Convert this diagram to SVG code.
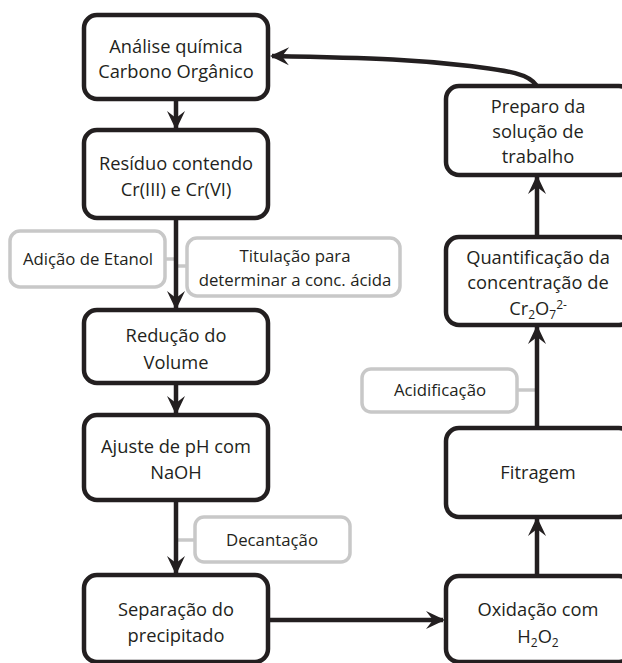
<svg xmlns="http://www.w3.org/2000/svg" width="622" height="663" viewBox="0 0 622 663">
<style>
.box{fill:#fff;stroke:#231f20;stroke-width:4.5}
.gbox{fill:#fff;stroke:#c8c8c8;stroke-width:3.5}
.gl{stroke:#c8c8c8;stroke-width:3.5;fill:none}
.t{font-family:"Open Sans","Liberation Sans",sans-serif;font-size:18.3px;fill:#231f20;text-anchor:middle}
.g{font-family:"Open Sans","Liberation Sans",sans-serif;font-size:16.8px;fill:#231f20;text-anchor:middle}
.c{stroke:#231f20;stroke-width:4.5;fill:none;marker-end:url(#ah)}
.s{font-size:12px}
</style>
<defs>
<marker id="ah" markerUnits="userSpaceOnUse" viewBox="-20 -10 22 20" refX="-2" refY="0" markerWidth="22" markerHeight="20" orient="auto">
<path d="M0,0 L-19,-9 L-12,0 L-19,9 Z" fill="#231f20"/>
</marker>
</defs>
<g id="connectors">
<line class="gl" x1="165" y1="259" x2="176" y2="259"/>
<line class="gl" x1="176" y1="266" x2="187" y2="266"/>
<line class="gl" x1="176" y1="540" x2="195" y2="540"/>
<line class="gl" x1="517" y1="390" x2="537" y2="390"/>
<line class="c" x1="176" y1="99" x2="176" y2="128"/>
<line class="c" x1="176" y1="218" x2="176" y2="308"/>
<line class="c" x1="176" y1="383" x2="176" y2="413"/>
<line class="c" x1="176" y1="500" x2="176" y2="573"/>
<line class="c" x1="268" y1="620" x2="443" y2="620"/>
<line class="c" x1="537" y1="575" x2="537" y2="519"/>
<line class="c" x1="537" y1="428" x2="537" y2="327"/>
<line class="c" x1="537" y1="237" x2="537" y2="177"/>
<path class="c" d="M537,86 C528,72 500,70 470,66 C420,60 380,58 272,56"/>
</g>
<g id="n1"><rect class="box" x="84" y="15" width="184" height="84" rx="13"/>
<text class="t" x="176" y="53">Análise química</text><text class="t" x="176" y="78">Carbono Orgânico</text></g>
<g id="n2"><rect class="box" x="84" y="130" width="184" height="88" rx="13"/>
<text class="t" x="176" y="170">Resíduo contendo</text><text class="t" x="176" y="196">Cr(III) e Cr(VI)</text></g>
<g id="g1"><rect class="gbox" x="10" y="231" width="155" height="56" rx="10"/>
<text class="g" x="88" y="265">Adição de Etanol</text></g>
<g id="g2"><rect class="gbox" x="187" y="238" width="213" height="58" rx="10"/>
<text class="g" x="295" y="262">Titulação para</text><text class="g" x="295" y="286">determinar a conc. ácida</text></g>
<g id="n3"><rect class="box" x="84" y="310" width="184" height="73" rx="13"/>
<text class="t" x="176" y="342">Redução  do</text><text class="t" x="176" y="369">Volume</text></g>
<g id="n4"><rect class="box" x="84" y="415" width="184" height="85" rx="13"/>
<text class="t" x="176" y="453">Ajuste de pH com</text><text class="t" x="176" y="479">NaOH</text></g>
<g id="g3"><rect class="gbox" x="195" y="517" width="155" height="45" rx="9"/>
<text class="g" x="272" y="546">Decantação</text></g>
<g id="n5"><rect class="box" x="84" y="575" width="184" height="87" rx="13"/>
<text class="t" x="176" y="616">Separação do</text><text class="t" x="176" y="642">precipitado</text></g>
<g id="n6"><rect class="box" x="446" y="576" width="186" height="86" rx="13"/>
<text class="t" x="538" y="616">Oxidação com</text><text class="t" x="538" y="643">H<tspan class="s" dy="4">2</tspan><tspan dy="-4">O</tspan><tspan class="s" dy="4">2</tspan></text></g>
<g id="n7"><rect class="box" x="446" y="428" width="186" height="89" rx="13"/>
<text class="t" x="538" y="479">Fitragem</text></g>
<g id="g4"><rect class="gbox" x="362" y="369" width="155" height="43" rx="9"/>
<text class="g" x="440" y="396">Acidificação</text></g>
<g id="n8"><rect class="box" x="446" y="237" width="186" height="88" rx="13"/>
<text class="t" x="538" y="264">Quantificação da</text><text class="t" x="538" y="289">concentração de</text><text class="t" x="538" y="315">Cr<tspan class="s" dy="4">2</tspan><tspan dy="-4">O</tspan><tspan class="s" dy="4">7</tspan><tspan class="s" dy="-10">2-</tspan></text></g>
<g id="n9"><rect class="box" x="446" y="86" width="186" height="89" rx="13"/>
<text class="t" x="538" y="113">Preparo da</text><text class="t" x="538" y="138">solução de</text><text class="t" x="538" y="163">trabalho</text></g>
</svg>
